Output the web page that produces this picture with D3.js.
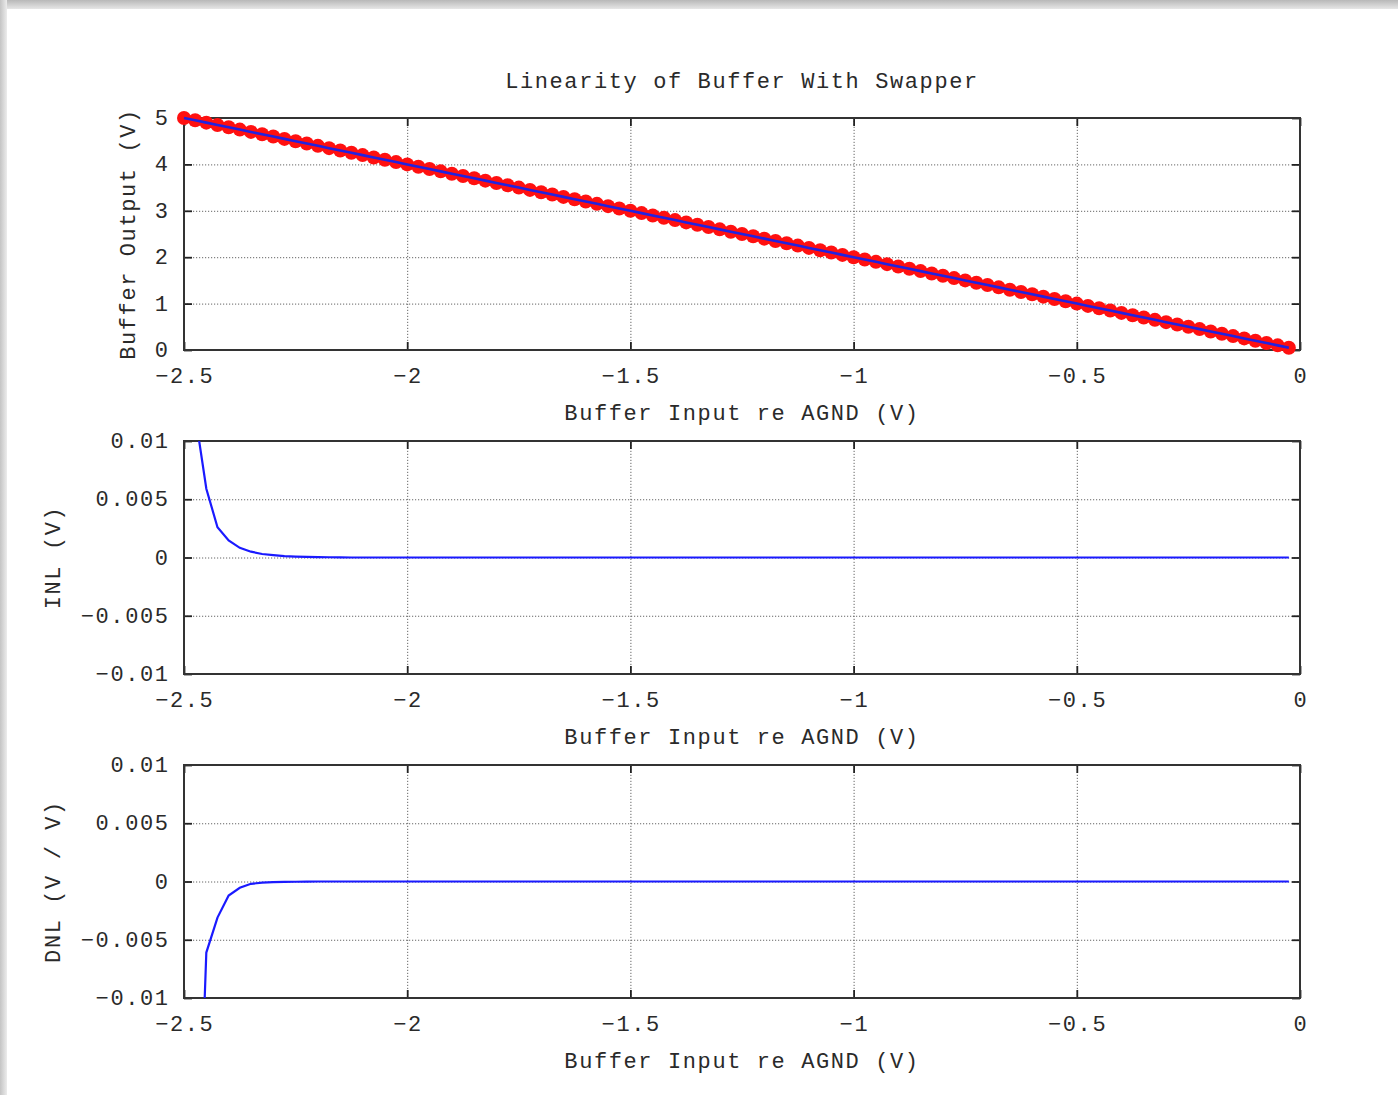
<!DOCTYPE html>
<html>
<head>
<meta charset="utf-8">
<script src="https://cdn.jsdelivr.net/npm/d3@7"></script>
<style>
  html, body { margin: 0; padding: 0; background: #fff; }
  svg { display: block; }
  text { font-family: "Liberation Mono", "DejaVu Sans Mono", monospace; fill: #2a2a2a; }
</style>
</head>
<body>
<svg id="chart" width="1398" height="1095"></svg>
<script>
// ---------------- data ----------------
const title = "Linearity of Buffer With Swapper";
const xLabel = "Buffer Input re AGND (V)";
const yLabels = ["Buffer Output  (V)", "INL  (V)", "DNL  (V / V)"];

const inputV = [
  -2.5,-2.475,-2.45,-2.425,-2.4,-2.375,-2.35,-2.325,-2.3,-2.275,
  -2.25,-2.225,-2.2,-2.175,-2.15,-2.125,-2.1,-2.075,-2.05,-2.025,
  -2,-1.975,-1.95,-1.925,-1.9,-1.875,-1.85,-1.825,-1.8,-1.775,
  -1.75,-1.725,-1.7,-1.675,-1.65,-1.625,-1.6,-1.575,-1.55,-1.525,
  -1.5,-1.475,-1.45,-1.425,-1.4,-1.375,-1.35,-1.325,-1.3,-1.275,
  -1.25,-1.225,-1.2,-1.175,-1.15,-1.125,-1.1,-1.075,-1.05,-1.025,
  -1,-0.975,-0.95,-0.925,-0.9,-0.875,-0.85,-0.825,-0.8,-0.775,
  -0.75,-0.725,-0.7,-0.675,-0.65,-0.625,-0.6,-0.575,-0.55,-0.525,
  -0.5,-0.475,-0.45,-0.425,-0.4,-0.375,-0.35,-0.325,-0.3,-0.275,
  -0.25,-0.225,-0.2,-0.175,-0.15,-0.125,-0.1,-0.075,-0.05,-0.025
];
const outputV = [
  5,4.95,4.9,4.85,4.8,4.75,4.7,4.65,4.6,4.55,
  4.5,4.45,4.4,4.35,4.3,4.25,4.2,4.15,4.1,4.05,
  4,3.95,3.9,3.85,3.8,3.75,3.7,3.65,3.6,3.55,
  3.5,3.45,3.4,3.35,3.3,3.25,3.2,3.15,3.1,3.05,
  3,2.95,2.9,2.85,2.8,2.75,2.7,2.65,2.6,2.55,
  2.5,2.45,2.4,2.35,2.3,2.25,2.2,2.15,2.1,2.05,
  2,1.95,1.9,1.85,1.8,1.75,1.7,1.65,1.6,1.55,
  1.5,1.45,1.4,1.35,1.3,1.25,1.2,1.15,1.1,1.05,
  1,0.95,0.9,0.85,0.8,0.75,0.7,0.65,0.6,0.55,
  0.5,0.45,0.4,0.35,0.3,0.25,0.2,0.15,0.1,0.05
];
const inl = [
  0.026,0.0123,0.0059,0.0026,0.00146,0.00083,0.0005,0.0003,0.0002,0.00012,
  0.00008,0.00005,0.00003,0.00002,0.00001,0,0,0,0,0,
  0,0,0,0,0,0,0,0,0,0,
  0,0,0,0,0,0,0,0,0,0,
  0,0,0,0,0,0,0,0,0,0,
  0,0,0,0,0,0,0,0,0,0,
  0,0,0,0,0,0,0,0,0,0,
  0,0,0,0,0,0,0,0,0,0,
  0,0,0,0,0,0,0,0,0,0,
  0,0,0,0,0,0,0,0,0,0
];
const dnl = [
  -0.06,-0.033,-0.0061,-0.0031,-0.0012,-0.00054,-0.0002,-0.0001,-0.00006,-0.00004,
  -0.00002,-0.00001,0,0,0,0,0,0,0,0,
  0,0,0,0,0,0,0,0,0,0,
  0,0,0,0,0,0,0,0,0,0,
  0,0,0,0,0,0,0,0,0,0,
  0,0,0,0,0,0,0,0,0,0,
  0,0,0,0,0,0,0,0,0,0,
  0,0,0,0,0,0,0,0,0,0,
  0,0,0,0,0,0,0,0,0,0,
  0,0,0,0,0,0,0,0,0,0
];

const xTicks = [-2.5, -2, -1.5, -1, -0.5, 0];
const xTickLabels = ["\u22122.5", "\u22122", "\u22121.5", "\u22121", "\u22120.5", "0"];
const yTicksOut = [0, 1, 2, 3, 4, 5];
const yTickLabelsOut = ["0", "1", "2", "3", "4", "5"];
const yTicksErr = [-0.01, -0.005, 0, 0.005, 0.01];
const yTickLabelsErr = ["\u22120.01", "\u22120.005", "0", "0.005", "0.01"];

// ---------------- drawing ----------------
const svg = d3.select("#chart");

// image frame shadow (top & left)
const defs = svg.append("defs");
const gTop = defs.append("linearGradient").attr("id", "gTop").attr("x1", 0).attr("y1", 0).attr("x2", 0).attr("y2", 1);
gTop.append("stop").attr("offset", 0).attr("stop-color", "#b8b8b8");
gTop.append("stop").attr("offset", 1).attr("stop-color", "#e6e6e6");
const gLeft = defs.append("linearGradient").attr("id", "gLeft").attr("x1", 0).attr("y1", 0).attr("x2", 1).attr("y2", 0);
gLeft.append("stop").attr("offset", 0).attr("stop-color", "#c4c4c4");
gLeft.append("stop").attr("offset", 1).attr("stop-color", "#ececec");
svg.append("rect").attr("x", 0).attr("y", 0).attr("width", 1398).attr("height", 9).attr("fill", "url(#gTop)");
svg.append("rect").attr("x", 0).attr("y", 0).attr("width", 7).attr("height", 1095).attr("fill", "url(#gLeft)");

const left = 184, right = 1300;
const x = d3.scaleLinear().domain([-2.5, 0]).range([left, right]);

const fontSize = 22, spacing = 1.6;

svg.append("text")
  .attr("x", 742).attr("y", 88)
  .attr("text-anchor", "middle")
  .style("font-size", fontSize + "px").style("letter-spacing", spacing + "px")
  .text(title);

const panels = [
  { top: 118, bottom: 350, domain: [0, 5], ticks: yTicksOut, labels: yTickLabelsOut, ylab: yLabels[0], ylabX: 128 },
  { top: 441, bottom: 674, domain: [-0.01, 0.01], ticks: yTicksErr, labels: yTickLabelsErr, ylab: yLabels[1], ylabX: 53 },
  { top: 765, bottom: 998, domain: [-0.01, 0.01], ticks: yTicksErr, labels: yTickLabelsErr, ylab: yLabels[2], ylabX: 53 }
];

panels.forEach((p, i) => {
  const y = d3.scaleLinear().domain(p.domain).range([p.bottom, p.top]);
  p.y = y;
  const h = p.bottom - p.top, w = right - left;
  const g = svg.append("g");

  // grid
  const gx = g.append("g").attr("transform", `translate(0,${p.bottom})`)
    .call(d3.axisBottom(x).tickValues(xTicks).tickSize(-h).tickFormat(""));
  const gy = g.append("g").attr("transform", `translate(${left},0)`)
    .call(d3.axisLeft(y).tickValues(p.ticks).tickSize(-w).tickFormat(""));
  [gx, gy].forEach(a => {
    a.select(".domain").remove();
    a.selectAll("line").attr("stroke", "#666").attr("stroke-width", 1).attr("stroke-dasharray", "1.2,1.8");
  });

  // inward ticks on all four sides
  const tk = 8;
  const axes = [
    g.append("g").attr("transform", `translate(0,${p.bottom})`).call(d3.axisBottom(x).tickValues(xTicks).tickSize(-tk).tickFormat("")),
    g.append("g").attr("transform", `translate(0,${p.top})`).call(d3.axisTop(x).tickValues(xTicks).tickSize(-tk).tickFormat("")),
    g.append("g").attr("transform", `translate(${left},0)`).call(d3.axisLeft(y).tickValues(p.ticks).tickSize(-tk).tickFormat("")),
    g.append("g").attr("transform", `translate(${right},0)`).call(d3.axisRight(y).tickValues(p.ticks).tickSize(-tk).tickFormat(""))
  ];
  axes.forEach(a => {
    a.select(".domain").remove();
    a.selectAll("line").attr("stroke", "#222").attr("stroke-width", 1.8);
  });

  // frame
  g.append("rect").attr("x", left).attr("y", p.top).attr("width", w).attr("height", h)
    .attr("fill", "none").attr("stroke", "#333").attr("stroke-width", 2);

  // tick labels
  g.selectAll("text.xl").data(xTicks).enter().append("text")
    .attr("x", d => x(d) + spacing / 2).attr("y", p.bottom + 33)
    .attr("text-anchor", "middle")
    .style("font-size", fontSize + "px").style("letter-spacing", spacing + "px")
    .text((d, k) => xTickLabels[k]);
  g.selectAll("text.yl").data(p.ticks).enter().append("text")
    .attr("x", left - 16 + spacing).attr("y", d => y(d) + 7)
    .attr("text-anchor", "end")
    .style("font-size", fontSize + "px").style("letter-spacing", spacing + "px")
    .text((d, k) => p.labels[k]);

  // axis labels
  g.append("text")
    .attr("x", 742).attr("y", p.bottom + 70)
    .attr("text-anchor", "middle")
    .style("font-size", fontSize + "px").style("letter-spacing", spacing + "px")
    .text(xLabel);
  const cy = (p.top + p.bottom) / 2;
  g.append("text")
    .attr("transform", `translate(${p.ylabX + 7},${cy}) rotate(-90)`)
    .attr("text-anchor", "middle")
    .style("font-size", fontSize + "px").style("letter-spacing", spacing + "px")
    .text(p.ylab);

  // clip
  defs.append("clipPath").attr("id", "clip" + i)
    .append("rect").attr("x", left).attr("y", p.top).attr("width", w).attr("height", h);
  p.plot = svg.append("g").attr("clip-path", `url(#clip${i})`);
});

// panel 1: markers + line
const p1 = panels[0];
const pts = inputV.map((v, k) => [v, outputV[k]]);
svg.append("g").selectAll("circle").data(pts).enter().append("circle")
  .attr("cx", d => x(d[0])).attr("cy", d => p1.y(d[1]))
  .attr("r", 7).attr("fill", "#ff1010");
svg.append("path").datum(pts)
  .attr("d", d3.line().x(d => x(d[0])).y(d => p1.y(d[1])))
  .attr("fill", "none").attr("stroke", "#2222e0").attr("stroke-width", 2.6);

// panel 2: INL
const p2 = panels[1];
p2.plot.append("path").datum(inputV.map((v, k) => [v, inl[k]]))
  .attr("d", d3.line().x(d => x(d[0])).y(d => p2.y(d[1])))
  .attr("fill", "none").attr("stroke", "#1a1aff").attr("stroke-width", 2.2);

// panel 3: DNL
const p3 = panels[2];
p3.plot.append("path").datum(inputV.map((v, k) => [v, dnl[k]]))
  .attr("d", d3.line().x(d => x(d[0])).y(d => p3.y(d[1])))
  .attr("fill", "none").attr("stroke", "#1a1aff").attr("stroke-width", 2.2);
</script>
</body>
</html>
